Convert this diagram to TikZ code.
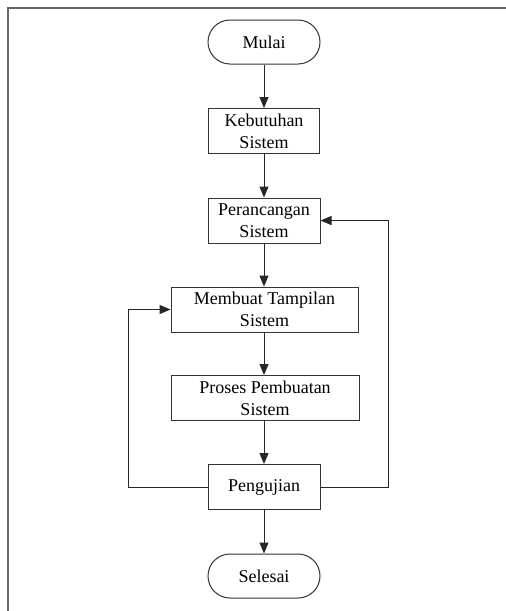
\documentclass[tikz,border=0pt]{standalone}
\usepackage{fontspec}
\setmainfont{Liberation Serif}
\usetikzlibrary{arrows.meta}
\begin{document}
\begin{tikzpicture}[x=1pt,y=-1pt,
  every node/.style={font=\fontsize{18}{22}\selectfont, align=center, inner sep=0pt},
  process/.style={draw=black!80, line width=1pt, fill=white, minimum height=45pt},
  terminal/.style={draw=black!80, line width=1pt, fill=white, minimum width=112pt, minimum height=44pt, rounded corners=22pt},
  flow/.style={draw=black!85, line width=1pt, -{Triangle[length=11pt,width=9pt]}},
  frame/.style={draw=black!60, line width=1.6pt}]
  \useasboundingbox (0,0) rectangle (506,611);
  % page frame (top and left edges)
  \draw[frame] (506,8) -- (8,8) -- (8,611);

  \node[terminal] (mulai) at (264,42) {Mulai};
  \node[process, minimum width=111pt] (keb) at (264,131) {Kebutuhan\\Sistem};
  \node[process, minimum width=112pt] (per) at (264,220.5) {Perancangan\\Sistem};
  \node[process, minimum width=187pt] (mem) at (264.5,309.5) {Membuat Tampilan\\Sistem};
  \node[process, minimum width=188pt] (pro) at (265,398) {Proses Pembuatan\\Sistem};
  \node[process, minimum width=112pt] (pen) at (264,487) {Pengujian};
  \node[terminal] (sel) at (264,576) {Selesai};

  \coordinate (lx) at (128,0);
  \coordinate (rx) at (388,0);

  \draw[flow] (mulai) -- (keb);
  \draw[flow] (keb) -- (per);
  \draw[flow] (per.south -| mulai) -- (mem.north -| mulai);
  \draw[flow] (mem.south -| mulai) -- (pro.north -| mulai);
  \draw[flow] (pro.south -| mulai) -- (pen);
  \draw[flow] (pen) -- (sel);
  \draw[flow] (pen.west) -- (pen.west -| lx) |- (mem.west);
  \draw[flow] (pen.east) -- (pen.east -| rx) |- (per.east);
\end{tikzpicture}
\end{document}
